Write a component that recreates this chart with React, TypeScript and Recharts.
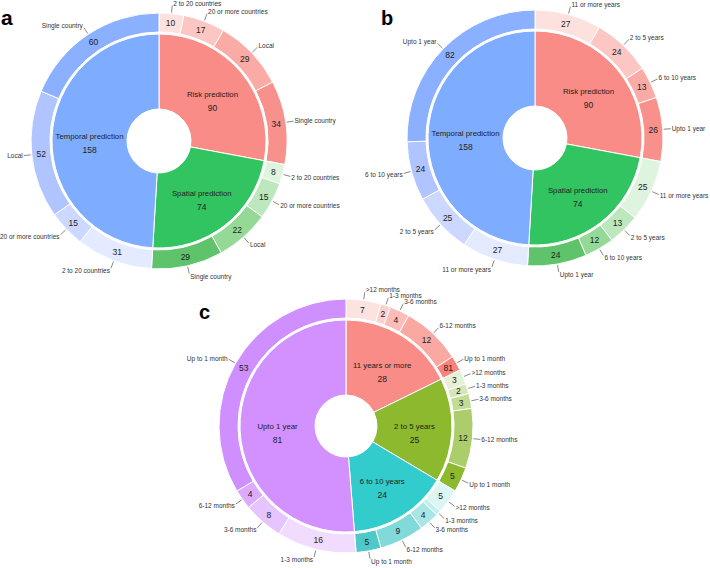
import { PieChart, Pie, Cell } from 'recharts'

const RAD = Math.PI / 180
const FONT = '"Liberation Sans", Arial, sans-serif'

// ---- panel a: scope ----
const groupNamesA = ['Risk prediction', 'Spatial prediction', 'Temporal prediction']
const groupValuesA = [90, 74, 158]
const scopeNames = ['2 to 20 countries', '20 or more countries', 'Local', 'Single country']
const outerNamesA = [...scopeNames, ...scopeNames, ...scopeNames]
const outerValuesA = [10, 17, 29, 34, 8, 15, 22, 29, 31, 15, 52, 60]

// ---- panel b: time span ----
const groupNamesB = ['Risk prediction', 'Spatial prediction', 'Temporal prediction']
const groupValuesB = [90, 74, 158]
const spanNames = ['11 or more years', '2 to 5 years', '6 to 10 years', 'Upto 1 year']
const outerNamesB = [...spanNames, ...spanNames, ...spanNames]
const outerValuesB = [27, 24, 13, 26, 25, 13, 12, 24, 27, 25, 24, 82]

// ---- panel c: resolution ----
const groupNamesC = ['11 years or more', '2 to 5 years', '6 to 10 years', 'Upto 1 year']
const groupValuesC = [28, 25, 24, 81]
const resNames = ['>12 months', '1-3 months', '3-6 months', '6-12 months', 'Up to 1 month']
const outerNamesC = [
  ...resNames, ...resNames, ...resNames,
  '1-3 months', '3-6 months', '6-12 months', 'Up to 1 month',
]
const outerValuesC = [7, 2, 4, 12, 3, 3, 2, 3, 12, 5, 5, 1, 4, 9, 5, 16, 8, 4, 53]
// the original figure prints "81" on the small red "Up to 1 month" slice
const printedC: Record<number, string> = { 4: '81' }

// colours
const redInner = '#f98c86'
const greenInner = '#33c462'
const blueInner = '#7eadff'
const redOuter4 = ['#fde1de', '#fcc6c2', '#faaba5', '#f8918b']
const greenOuter4 = ['#dff4df', '#bde8bd', '#94da96', '#5ec36a']
const blueOuter4 = ['#e4eaff', '#ccd8ff', '#b0c4ff', '#8ab0ff']
const innerColorsAB = [redInner, greenInner, blueInner]
const outerColorsAB = [...redOuter4, ...greenOuter4, ...blueOuter4]

const innerColorsC = ['#f98c86', '#8db92e', '#33cccc', '#d291ff']
const outerColorsC = [
  '#fde3e0', '#fcd1cd', '#fbbdb8', '#faa8a2', '#f8837c',
  '#e6f0d6', '#d5e7b6', '#c2dc96', '#abcd6c', '#8db92e',
  '#ddf5f5', '#c3eeee', '#a8e6e6', '#82d9d9', '#4fc8c8',
  '#f1dbff', '#e6c4ff', '#dcabff', '#d08fff',
]

const toData = (names: string[], values: number[]) =>
  values.map((v, i) => ({ name: names[i], value: v }))

const innerLabel = (names: string[], values: number[]) => (p: any) => {
  const { cx, cy, midAngle, innerRadius, outerRadius, index } = p
  const r = (innerRadius + outerRadius) / 2
  const x = cx + r * Math.cos(-midAngle * RAD)
  const y = cy + r * Math.sin(-midAngle * RAD)
  return (
    <g>
      <text x={x} y={y} textAnchor="middle" fontSize={7.8} fontFamily={FONT} fill="#222">
        {names[index]}
      </text>
      <text x={x} y={y + 14} textAnchor="middle" fontSize={8.5} fontFamily={FONT} fill="#222">
        {values[index]}
      </text>
    </g>
  )
}

const outerLabel =
  (names: string[], values: number[], printed: Record<number, string> = {}) => (p: any) => {
    const { cx, cy, midAngle, innerRadius, outerRadius, index } = p
    const cos = Math.cos(-midAngle * RAD)
    const sin = Math.sin(-midAngle * RAD)
    const mr = (innerRadius + outerRadius) / 2
    const v = values[index]
    const txt = printed[index] ?? (v >= 2 ? String(v) : '')
    const x1 = cx + (outerRadius + 1) * cos
    const y1 = cy + (outerRadius + 1) * sin
    const x2 = cx + (outerRadius + 8) * cos
    const y2 = cy + (outerRadius + 8) * sin
    const right = cos >= 0
    return (
      <g>
        <text x={cx + mr * cos} y={cy + mr * sin} dy={3} textAnchor="middle" fontSize={8.5} fontFamily={FONT} fill="#222">
          {txt}
        </text>
        <line x1={x1} y1={y1} x2={x2} y2={y2} stroke="#555" strokeWidth={0.7} />
        <text
          x={x2 + (right ? 1 : -1)}
          y={y2}
          dy={2.5 + sin * 2.5}
          textAnchor={right ? 'start' : 'end'}
          fontSize={6.5}
          fontFamily={FONT}
          fill="#333"
        >
          {names[index]}
        </text>
      </g>
    )
  }

const ring = {
  startAngle: 90,
  endAngle: -270,
  stroke: '#fff',
  strokeWidth: 1,
  isAnimationActive: false,
  labelLine: false,
  dataKey: 'value',
}

export default function App() {
  return (
    <div style={{ position: 'absolute', left: 0, top: 0, width: 710, height: 568, background: '#fff' }}>
      <PieChart width={710} height={568} margin={{ top: 0, right: 0, bottom: 0, left: 0 }}>
        {/* a */}
        <Pie {...ring} data={toData(groupNamesA, groupValuesA)} cx={159} cy={141} innerRadius={32} outerRadius={107}
          label={innerLabel(groupNamesA, groupValuesA)}>
          {innerColorsAB.map((c, i) => <Cell key={i} fill={c} />)}
        </Pie>
        <Pie {...ring} data={toData(outerNamesA, outerValuesA)} cx={159} cy={141} innerRadius={109} outerRadius={128}
          label={outerLabel(outerNamesA, outerValuesA)}>
          {outerColorsAB.map((c, i) => <Cell key={i} fill={c} />)}
        </Pie>
        {/* b */}
        <Pie {...ring} data={toData(groupNamesB, groupValuesB)} cx={535} cy={138} innerRadius={32} outerRadius={107}
          label={innerLabel(groupNamesB, groupValuesB)}>
          {innerColorsAB.map((c, i) => <Cell key={i} fill={c} />)}
        </Pie>
        <Pie {...ring} data={toData(outerNamesB, outerValuesB)} cx={535} cy={138} innerRadius={109} outerRadius={128}
          label={outerLabel(outerNamesB, outerValuesB)}>
          {outerColorsAB.map((c, i) => <Cell key={i} fill={c} />)}
        </Pie>
        {/* c */}
        <Pie {...ring} data={toData(groupNamesC, groupValuesC)} cx={346} cy={426} innerRadius={31} outerRadius={106}
          label={innerLabel(groupNamesC, groupValuesC)}>
          {innerColorsC.map((c, i) => <Cell key={i} fill={c} />)}
        </Pie>
        <Pie {...ring} data={toData(outerNamesC, outerValuesC)} cx={346} cy={426} innerRadius={108} outerRadius={127}
          label={outerLabel(outerNamesC, outerValuesC, printedC)}>
          {outerColorsC.map((c, i) => <Cell key={i} fill={c} />)}
        </Pie>
        <text x={1} y={25} fontSize={21} fontWeight="bold" fontFamily={FONT} fill="#000">a</text>
        <text x={381} y={25} fontSize={20} fontWeight="bold" fontFamily={FONT} fill="#000">b</text>
        <text x={199} y={319} fontSize={20} fontWeight="bold" fontFamily={FONT} fill="#000">c</text>
      </PieChart>
    </div>
  )
}
